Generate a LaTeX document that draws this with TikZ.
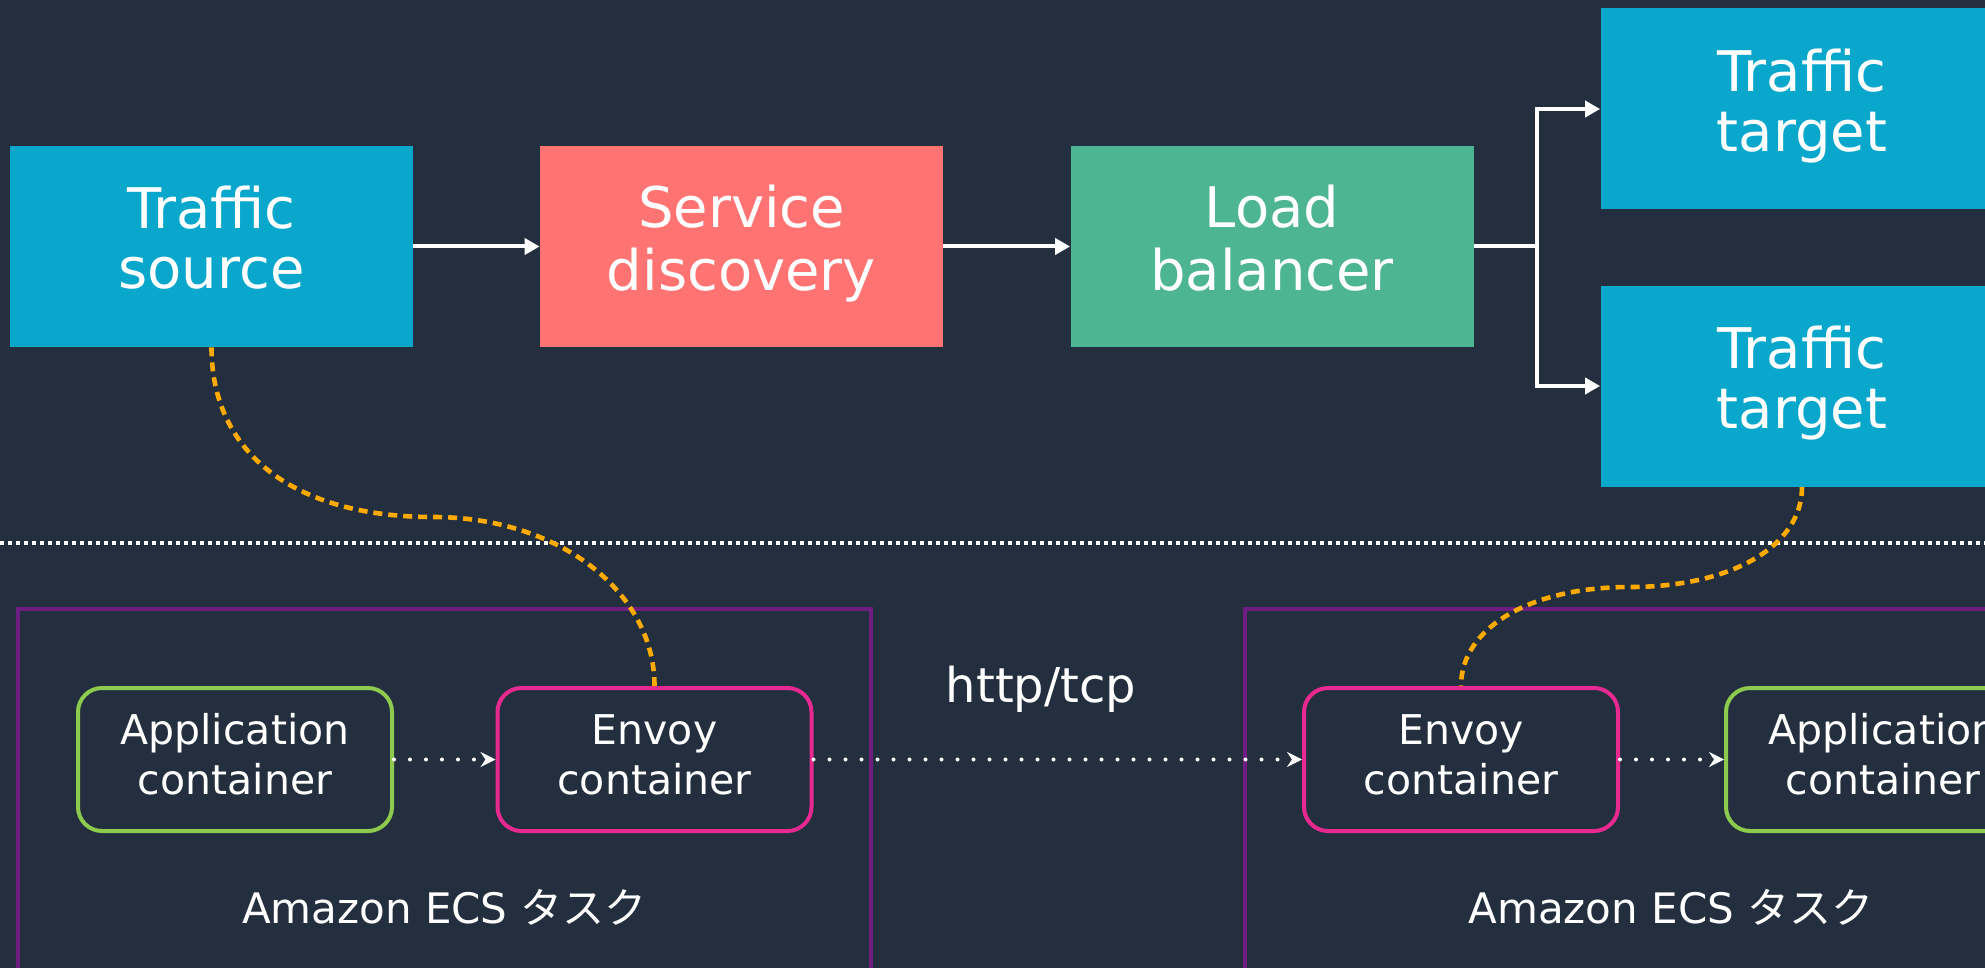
\documentclass[tikz,border=0pt]{standalone}
\usepackage{fontspec}
\setmainfont{DejaVu Sans}
\newfontfamily\jpfont{Noto Sans CJK JP}
\usetikzlibrary{calc}
\usetikzlibrary{arrows.meta}

\definecolor{bgnavy}{HTML}{232F3E}
\definecolor{awsblue}{HTML}{0AA7CD}
\definecolor{awscoral}{HTML}{FF7373}
\definecolor{awsgreen}{HTML}{4DB592}
\definecolor{applime}{HTML}{8CCB4D}
\definecolor{envoypink}{HTML}{E8298F}
\definecolor{taskpurple}{HTML}{6E1D82}
\definecolor{linkorange}{HTML}{FFAA00}

\tikzset{
  bigbox/.style={minimum width=201.5pt, minimum height=100.5pt, inner sep=0pt, align=center, text=white, font=\fontsize{28}{30}\selectfont},
  ctbox/.style={draw, line width=2pt, rounded corners=12pt, minimum width=157pt, minimum height=71.5pt, inner sep=0pt, align=center, text=white, font=\fontsize{20.5}{25}\selectfont},
  flow/.style={draw=white, line width=2pt, -{Triangle[length=7.5pt,width=8pt]}},
  hop/.style={draw=white, line width=2pt, line cap=round, dash pattern=on 0pt off 8pt, -{Stealth[length=7.5pt,width=7.5pt,inset=2.5pt]}},
  sidecar/.style={draw=linkorange, line width=2.3pt, dash pattern=on 4.5pt off 3pt},
  taskframe/.style={draw=taskpurple, line width=2pt},
  tasklabel/.style={text=white, anchor=base, font=\fontsize{21}{25}\selectfont}
}

\begin{document}
\begin{tikzpicture}[x=0.5pt,y=-0.5pt]

\useasboundingbox (0,0) rectangle (1985,968);
\clip (0,0) rectangle (1985,968);
\fill[bgnavy] (0,0) rectangle (1985,968);

% service mesh level
\node[bigbox, fill=awsblue] (src) at (211.5,246.5) {Traffic\strut\\source\strut};
\node[bigbox, fill=awscoral] (sd) at (741.5,246.5) {Service\strut\\discovery\strut};
\node[bigbox, fill=awsgreen] (lb) at (1272,246.5) {Load\strut\\balancer\strut};
\node[bigbox, fill=awsblue] (t1) at (1802,109) {Traffic\strut\\target\strut};
\node[bigbox, fill=awsblue] (t2) at (1802,386) {Traffic\strut\\target\strut};

\coordinate (fork) at (1537,246.5);

\draw[flow] (src) -- (sd);
\draw[flow] (sd) -- (lb);
\draw[white, line width=2pt] (lb.east) -- (fork);
\draw[flow] (fork) |- (t1.west);
\draw[flow] (fork) |- (t2.west);

% separator
\draw[white, line width=1.8pt, dash pattern=on 1.8pt off 2.2pt] (0,543) -- (1985,543);

% ECS tasks
\draw[taskframe] (18,609) rectangle (871,1000);
\draw[taskframe] (1245,609) rectangle (2100,1000);

\node[ctbox, draw=applime] (app1) at (235,759.5) {Application\strut\\container\strut};
\node[ctbox, draw=envoypink] (envL) at (654.5,759.5) {Envoy\strut\\container\strut};
\node[ctbox, draw=envoypink] (envR) at (1461,759.5) {Envoy\strut\\container\strut};
\node[ctbox, draw=applime] (app2) at (1883,759.5) {Application\strut\\container\strut};

\node[tasklabel] (task1) at (444.5,923) {Amazon ECS {\jpfont タスク}};
\node[tasklabel] (task2) at (1671,923) {Amazon ECS {\jpfont タスク}};
\node[tasklabel, font=\fontsize{24}{28}\selectfont] (proto) at (1041,702) {http/tcp};

\draw[hop] (app1) -- (envL);
\draw[hop] (envL) -- (envR);
\draw[hop] (envR) -- (app2);

% sidecar links
\coordinate (bendL) at (433,517);
\coordinate (bendR) at (1630,587);
\draw[sidecar] (src.south) .. controls +(0,105) and +(-140,0) .. (bendL)
  .. controls +(125,0) and +(0,-95) .. (envL.north);
\draw[sidecar] (t2.south) .. controls +(0,60) and +(100,0) .. (bendR)
  .. controls +(-100,0) and +(0,-58) .. (envR.north);

\end{tikzpicture}
\end{document}
